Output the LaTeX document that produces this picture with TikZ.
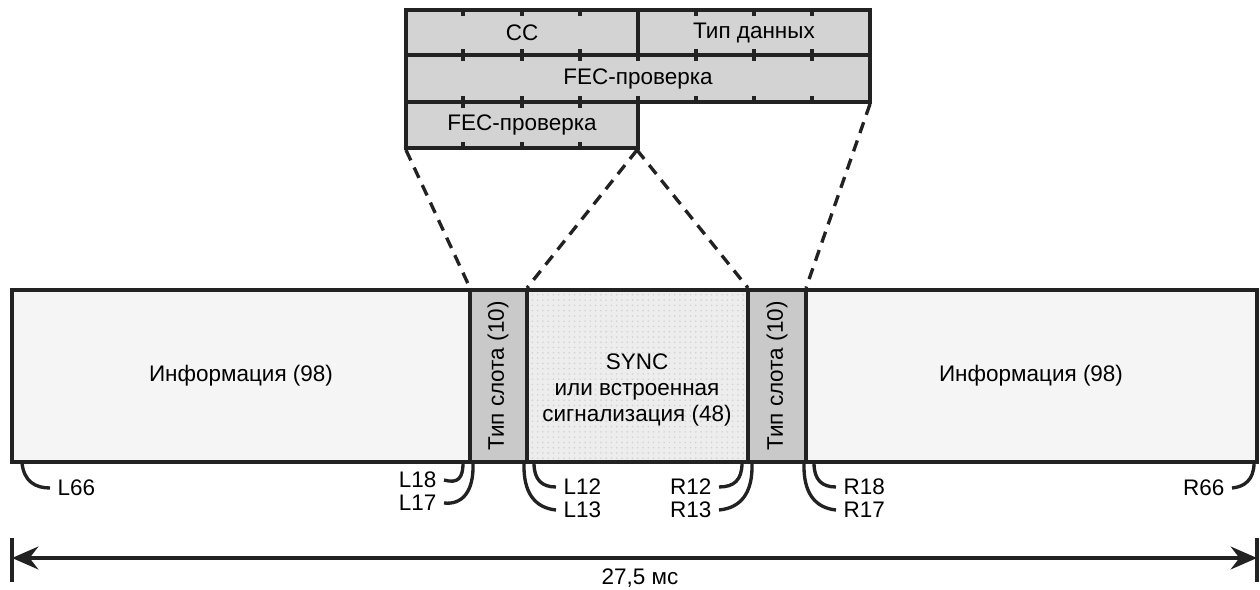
\documentclass[tikz,border=0pt]{standalone}
\usepackage{fontspec}
\setmainfont{Liberation Sans}
\usetikzlibrary{arrows.meta,patterns}
\definecolor{infofill}{HTML}{F5F5F5}
\definecolor{slotfill}{HTML}{C9C9C9}
\definecolor{headfill}{HTML}{D3D3D3}
\definecolor{syncfill}{HTML}{EDEDED}
\definecolor{linecol}{HTML}{222222}

\begin{document}
\begin{tikzpicture}[x=0.02cm,y=-0.02cm,line width=1.9pt,draw=linecol,
  font=\fontsize{12.8}{15}\selectfont]
\useasboundingbox (0,0) rectangle (1260,590);
% header fields
\fill[headfill] (406,10) rectangle (870,102);
\fill[headfill] (406,102) rectangle (638,148);
\draw (406,148) -- (406,10) -- (870,10) -- (870,102) -- (638,102) -- (638,148) -- cycle;
\draw (406,55) -- (870,55);
\draw (406,102) -- (638,102);
\draw (638,10) -- (638,55);
\foreach \x in {463,522,580,696,754,812}
  \draw (\x,10) -- (\x,16);
\foreach \x in {463,522,580,638,696,754,812}{
  \draw (\x,49) -- (\x,61);
  \draw (\x,96) -- (\x,102);
}
\foreach \x in {463,522,580}{
  \draw (\x,102) -- (\x,108);
  \draw (\x,142) -- (\x,148);
}
\node (cc) at (522,33) {CC};
\node (dtype) at (754,33) {Тип данных};
\node (fecA) at (638,79) {FEC-проверка};
\node (fecB) at (522,125) {FEC-проверка};
% burst
\draw[fill=infofill] (12,290) rectangle (470,462);
\draw[fill=slotfill] (470,290) rectangle (527,462);
\draw[fill=syncfill] (527,290) rectangle (748,462);
\fill[pattern=dots,pattern color=gray!35] (527,290) rectangle (748,462);
\draw (527,290) rectangle (748,462);
\draw[fill=slotfill] (748,290) rectangle (806,462);
\draw[fill=infofill] (806,290) rectangle (1257,462);
\node (infoL) at (241,376) {Информация (98)};
\node[rotate=90] (slotL) at (498,376) {Тип слота (10)};
\node[align=center] (sync) at (637,390) {SYNC\\или встроенная\\сигнализация (48)};
\node[rotate=90] (slotR) at (777,376) {Тип слота (10)};
\node (infoR) at (1031,376) {Информация (98)};
% zoom lines
\draw[dash pattern=on 6.5pt off 4.5pt] (406,150) -- (470,288);
\draw[dash pattern=on 6.5pt off 4.5pt] (637,150) -- (527,288);
\draw[dash pattern=on 6.5pt off 4.5pt] (637,150) -- (748,288);
\draw[dash pattern=on 6.5pt off 4.5pt] (870,104) -- (806,288);
% bit labels
\node[anchor=west] (l66) at (50,488) {L66};
\node[anchor=east] (l18) at (444,480) {L18};
\node[anchor=east] (l17) at (444,503) {L17};
\node[anchor=west] (l12) at (556,487) {L12};
\node[anchor=west] (l13) at (556,510) {L13};
\node[anchor=east] (r12) at (719,487) {R12};
\node[anchor=east] (r13) at (719,510) {R13};
\node[anchor=west] (r18) at (836,487) {R18};
\node[anchor=west] (r17) at (836,510) {R17};
\node[anchor=east] (r66) at (1232,488) {R66};
\draw (22,463) .. controls (24,482) and (36,488) .. (l66.west);
\draw (463,463) .. controls (463,478) and (458,484) .. (l18.east);
\draw (473,463) .. controls (474,492) and (462,505) .. (l17.east);
\draw (534,463) .. controls (534,480) and (542,487) .. (l12.west);
\draw (524,463) .. controls (523,494) and (536,508) .. (l13.west);
\draw (742,463) .. controls (742,480) and (734,487) .. (r12.east);
\draw (752,463) .. controls (753,494) and (740,508) .. (r13.east);
\draw (814,463) .. controls (814,480) and (822,487) .. (r18.west);
\draw (804,463) .. controls (803,494) and (816,508) .. (r17.west);
\draw (1254,463) .. controls (1254,480) and (1244,487) .. (r66.east);
% duration
\coordinate (tl) at (12,558);
\coordinate (tr) at (1257,558);
\draw (12,538) -- (12,582);
\draw (1257,538) -- (1257,582);
\draw[{Stealth[length=15pt,width=13pt,inset=5pt]}-{Stealth[length=15pt,width=13pt,inset=5pt]}] (tl) -- (tr);
\node (dur) at (640,578) {27,5 мс};
\end{tikzpicture}
\end{document}
